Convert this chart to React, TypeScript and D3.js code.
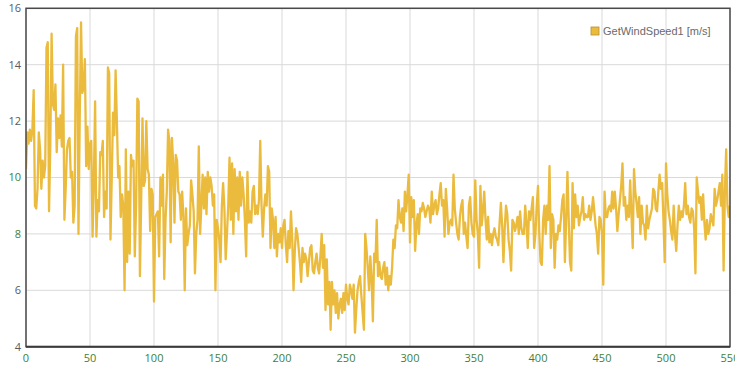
import React from "react";
import * as d3 from "d3";

// Wind speed samples, one per step index 0..550
const windSpeed: number[] = [
  10.3, 11.6, 11.2, 11.7, 11.3, 11.7, 13.1, 9.0, 8.9, 9.6,
  11.6, 11.0, 9.6, 10.6, 10.0, 10.4, 14.6, 14.8, 8.8, 11.2,
  15.1, 12.6, 12.4, 13.3, 10.9, 12.1, 11.4, 12.2, 11.1, 14.0,
  8.5, 9.6, 11.0, 11.3, 11.4, 10.0, 10.2, 8.4, 9.0, 15.0,
  15.3, 8.0, 12.2, 15.5, 13.0, 13.2, 14.2, 10.4, 11.8, 10.3,
  11.2, 11.3, 7.9, 9.8, 12.7, 7.9, 9.2, 8.8, 10.9, 10.8,
  11.3, 8.6, 9.5, 8.9, 13.9, 13.7, 7.8, 10.0, 12.3, 11.5,
  13.8, 12.0, 10.0, 10.4, 8.6, 9.4, 9.0, 6.0, 11.0, 7.0,
  9.5, 7.3, 10.8, 10.4, 10.6, 7.2, 9.0, 12.8, 12.7, 6.5,
  9.2, 12.1, 9.7, 9.9, 12.0, 10.3, 10.1, 8.1, 9.6, 9.4,
  5.6, 8.6, 8.7, 8.8, 7.2, 10.0, 9.0, 10.1, 6.4, 8.5,
  9.5, 11.7, 11.3, 7.7, 11.4, 10.5, 8.4, 10.8, 10.6, 9.5,
  9.4, 8.5, 9.5, 8.6, 6.0, 8.9, 7.6, 8.0, 8.3, 9.9,
  9.4, 8.8, 6.6, 8.0, 8.5, 11.1, 8.0, 9.0, 10.1, 8.9,
  10.0, 8.7, 10.2, 9.5, 10.0, 9.7, 9.0, 9.4, 6.0, 8.5,
  8.2, 7.8, 7.0, 9.0, 9.8, 8.9, 7.1, 8.0, 9.0, 10.7,
  8.5, 10.5, 8.0, 10.3, 8.8, 10.0, 8.5, 10.2, 9.0, 10.0,
  9.4, 8.5, 7.2, 10.2, 8.4, 8.8, 8.4, 9.5, 9.7, 8.7,
  9.0, 8.7, 9.2, 11.3, 9.0, 7.9, 8.9, 9.4, 9.0, 10.4,
  10.2, 7.5, 8.9, 8.5, 7.5, 8.6, 7.2, 8.0, 7.7, 8.2,
  7.5, 8.3, 8.5, 7.6, 7.0, 8.1, 7.5, 8.8, 7.8, 6.0,
  7.4, 8.2, 8.0, 7.5, 7.0, 6.3, 7.5, 7.0, 7.3, 7.1,
  6.5, 7.0, 7.5, 7.6, 6.7, 6.6, 7.0, 7.3, 6.8, 6.6,
  7.2, 8.0, 6.8, 7.6, 5.3, 7.1, 5.5, 6.3, 4.6, 6.3,
  5.5, 6.0, 5.2, 5.9, 5.0, 5.5, 5.7, 5.2, 5.9, 5.3,
  6.2, 5.7, 5.5, 6.2, 6.0, 5.7, 6.2, 4.5, 5.3, 6.0,
  6.3, 6.5, 5.8, 5.2, 4.6, 8.0, 7.5, 6.8, 6.0, 7.2,
  6.4, 4.9, 7.3, 7.0, 8.5, 6.5, 7.0, 6.5, 6.4, 6.8,
  7.0, 6.2, 6.8, 6.0, 6.5, 6.2, 6.8, 7.8, 7.5, 8.3,
  8.2, 9.2, 8.6, 8.4, 8.9, 8.1, 9.5, 8.8, 9.4, 10.1,
  7.7, 9.3, 8.6, 9.2, 7.4, 8.3, 8.7, 8.0, 8.9, 8.8,
  9.1, 8.9, 8.6, 8.8, 9.0, 8.9, 8.4, 9.5, 8.7, 9.0,
  9.2, 8.7, 8.9, 9.4, 9.8, 9.0, 9.2, 7.9, 9.6, 8.9,
  8.0, 8.4, 8.5, 8.3, 10.1, 8.9, 8.4, 8.0, 7.8, 8.6,
  9.0, 9.2, 8.0, 8.4, 7.9, 7.5, 9.0, 9.3, 8.4, 8.0,
  7.9, 9.9, 8.5, 8.0, 6.8, 9.7, 8.3, 8.8, 9.5, 8.5,
  7.8, 8.6, 7.7, 8.0, 7.6, 8.0, 8.2, 7.9, 7.8, 7.6,
  8.4, 9.1, 8.3, 7.0, 8.2, 9.0, 8.7, 7.8, 7.4, 6.7,
  8.5, 8.4, 8.1, 8.3, 8.6, 8.0, 8.8, 8.2, 8.0, 8.0,
  9.0, 8.4, 7.5, 8.8, 8.5, 8.9, 9.3, 7.5, 8.0, 9.0,
  9.7, 8.0, 7.0, 6.9, 8.5, 9.0, 8.0, 9.0, 8.5, 10.4,
  7.5, 8.7, 8.5, 6.8, 8.0, 7.8, 8.3, 8.1, 8.6, 9.2,
  9.4, 7.0, 8.5, 10.2, 8.5, 7.0, 6.7, 9.8, 8.2, 9.4,
  8.6, 9.0, 8.3, 8.6, 8.8, 9.3, 8.5, 8.7, 8.6, 8.6,
  9.0, 8.5, 8.8, 9.3, 8.8, 8.3, 8.0, 7.3, 8.6, 8.5,
  8.0, 6.2, 9.5, 8.6, 8.6, 8.9, 9.0, 8.8, 9.5, 8.9,
  9.5, 8.9, 8.1, 8.7, 9.2, 9.7, 10.5, 9.0, 9.3, 8.5,
  9.0, 8.6, 9.9, 8.7, 7.5, 10.3, 9.5, 9.1, 8.6, 9.3,
  8.0, 9.0, 8.4, 8.3, 7.8, 9.0, 8.2, 8.5, 8.7, 8.9,
  9.6, 9.5, 8.9, 8.8, 9.5, 10.1, 9.6, 9.8, 8.5, 7.0,
  10.5, 9.4, 8.8, 8.5, 8.1, 7.8, 9.0, 8.0, 7.4, 8.3,
  9.0, 8.5, 8.8, 8.6, 9.0, 9.8, 8.7, 9.0, 8.6, 8.4,
  8.9, 8.8, 8.2, 6.6, 10.0, 9.5, 9.1, 9.3, 8.5, 9.4,
  8.4, 7.8, 8.5, 8.0, 8.2, 8.7, 8.5, 8.3, 9.6, 9.0,
  9.2, 9.5, 9.8, 9.0, 10.1, 6.7, 9.5, 11.0, 9.0, 8.6,
  9.0,
];

const xTicks: number[] = [0, 50, 100, 150, 200, 250, 300, 350, 400, 450, 500, 550];
const yTicks: number[] = [4, 6, 8, 10, 12, 14, 16];
const seriesName = "GetWindSpeed1 [m/s]";

const W = 735;
const H = 367;
const plot = { left: 26, right: 730, top: 8.3, bottom: 346.7 };

const lineColor = "#ebbb3e";
const tickFont = "'Open Sans', 'DejaVu Sans', sans-serif";

export default function App() {
  const x = d3.scaleLinear().domain([0, 550]).range([plot.left, plot.right]);
  const y = d3.scaleLinear().domain([4, 16]).range([plot.bottom, plot.top]);

  const line = d3
    .line<number>()
    .x((_, i) => x(i))
    .y((d) => y(d));

  const greenLabels = new Set([8, 10]);

  return (
    <svg
      width={W}
      height={H}
      style={{ position: "absolute", left: 0, top: 0, background: "#fff" }}
    >
      <defs>
        <clipPath id="plotClip">
          <rect
            x={plot.left}
            y={plot.top}
            width={plot.right - plot.left}
            height={plot.bottom - plot.top}
          />
        </clipPath>
      </defs>

      {/* grid */}
      {xTicks.map((t) => (
        <line
          key={`gx${t}`}
          x1={x(t)}
          x2={x(t)}
          y1={plot.top}
          y2={plot.bottom}
          stroke="#d9d9d9"
          strokeWidth={1}
        />
      ))}
      {yTicks.map((t) => (
        <line
          key={`gy${t}`}
          x1={plot.left}
          x2={plot.right}
          y1={y(t)}
          y2={y(t)}
          stroke="#d9d9d9"
          strokeWidth={1}
        />
      ))}

      {/* series */}
      <path
        d={line(windSpeed) ?? ""}
        fill="none"
        stroke={lineColor}
        strokeWidth={2.3}
        strokeLinejoin="round"
        clipPath="url(#plotClip)"
      />

      {/* frame */}
      <rect
        x={plot.left}
        y={plot.top}
        width={plot.right - plot.left}
        height={plot.bottom - plot.top}
        fill="none"
        stroke="#4a4a4a"
        strokeWidth={1.5}
      />
      <line
        x1={plot.left}
        x2={plot.right}
        y1={plot.bottom}
        y2={plot.bottom}
        stroke="#3a3a3a"
        strokeWidth={2}
      />

      {/* y tick labels */}
      {yTicks.map((t) => (
        <text
          key={`ly${t}`}
          x={21}
          y={y(t)}
          dy="0.35em"
          textAnchor="end"
          fontFamily={tickFont}
          fontSize={11}
          fill={greenLabels.has(t) ? "#3d7f3d" : "#5a5a5a"}
        >
          {t}
        </text>
      ))}

      {/* x tick labels */}
      {xTicks.map((t) => (
        <text
          key={`lx${t}`}
          x={x(t)}
          y={362}
          textAnchor="middle"
          fontFamily={tickFont}
          fontSize={11}
          fill="#3d7f3d"
        >
          {t}
        </text>
      ))}

      {/* legend */}
      <rect x={591} y={27} width={8} height={8} fill={lineColor} stroke="#b8912c" strokeWidth={0.8} />
      <text
        x={603}
        y={35}
        fontFamily="'Liberation Sans', Arial, sans-serif"
        fontSize={11}
        fill="#6a6a6a"
      >
        {seriesName}
      </text>
    </svg>
  );
}
